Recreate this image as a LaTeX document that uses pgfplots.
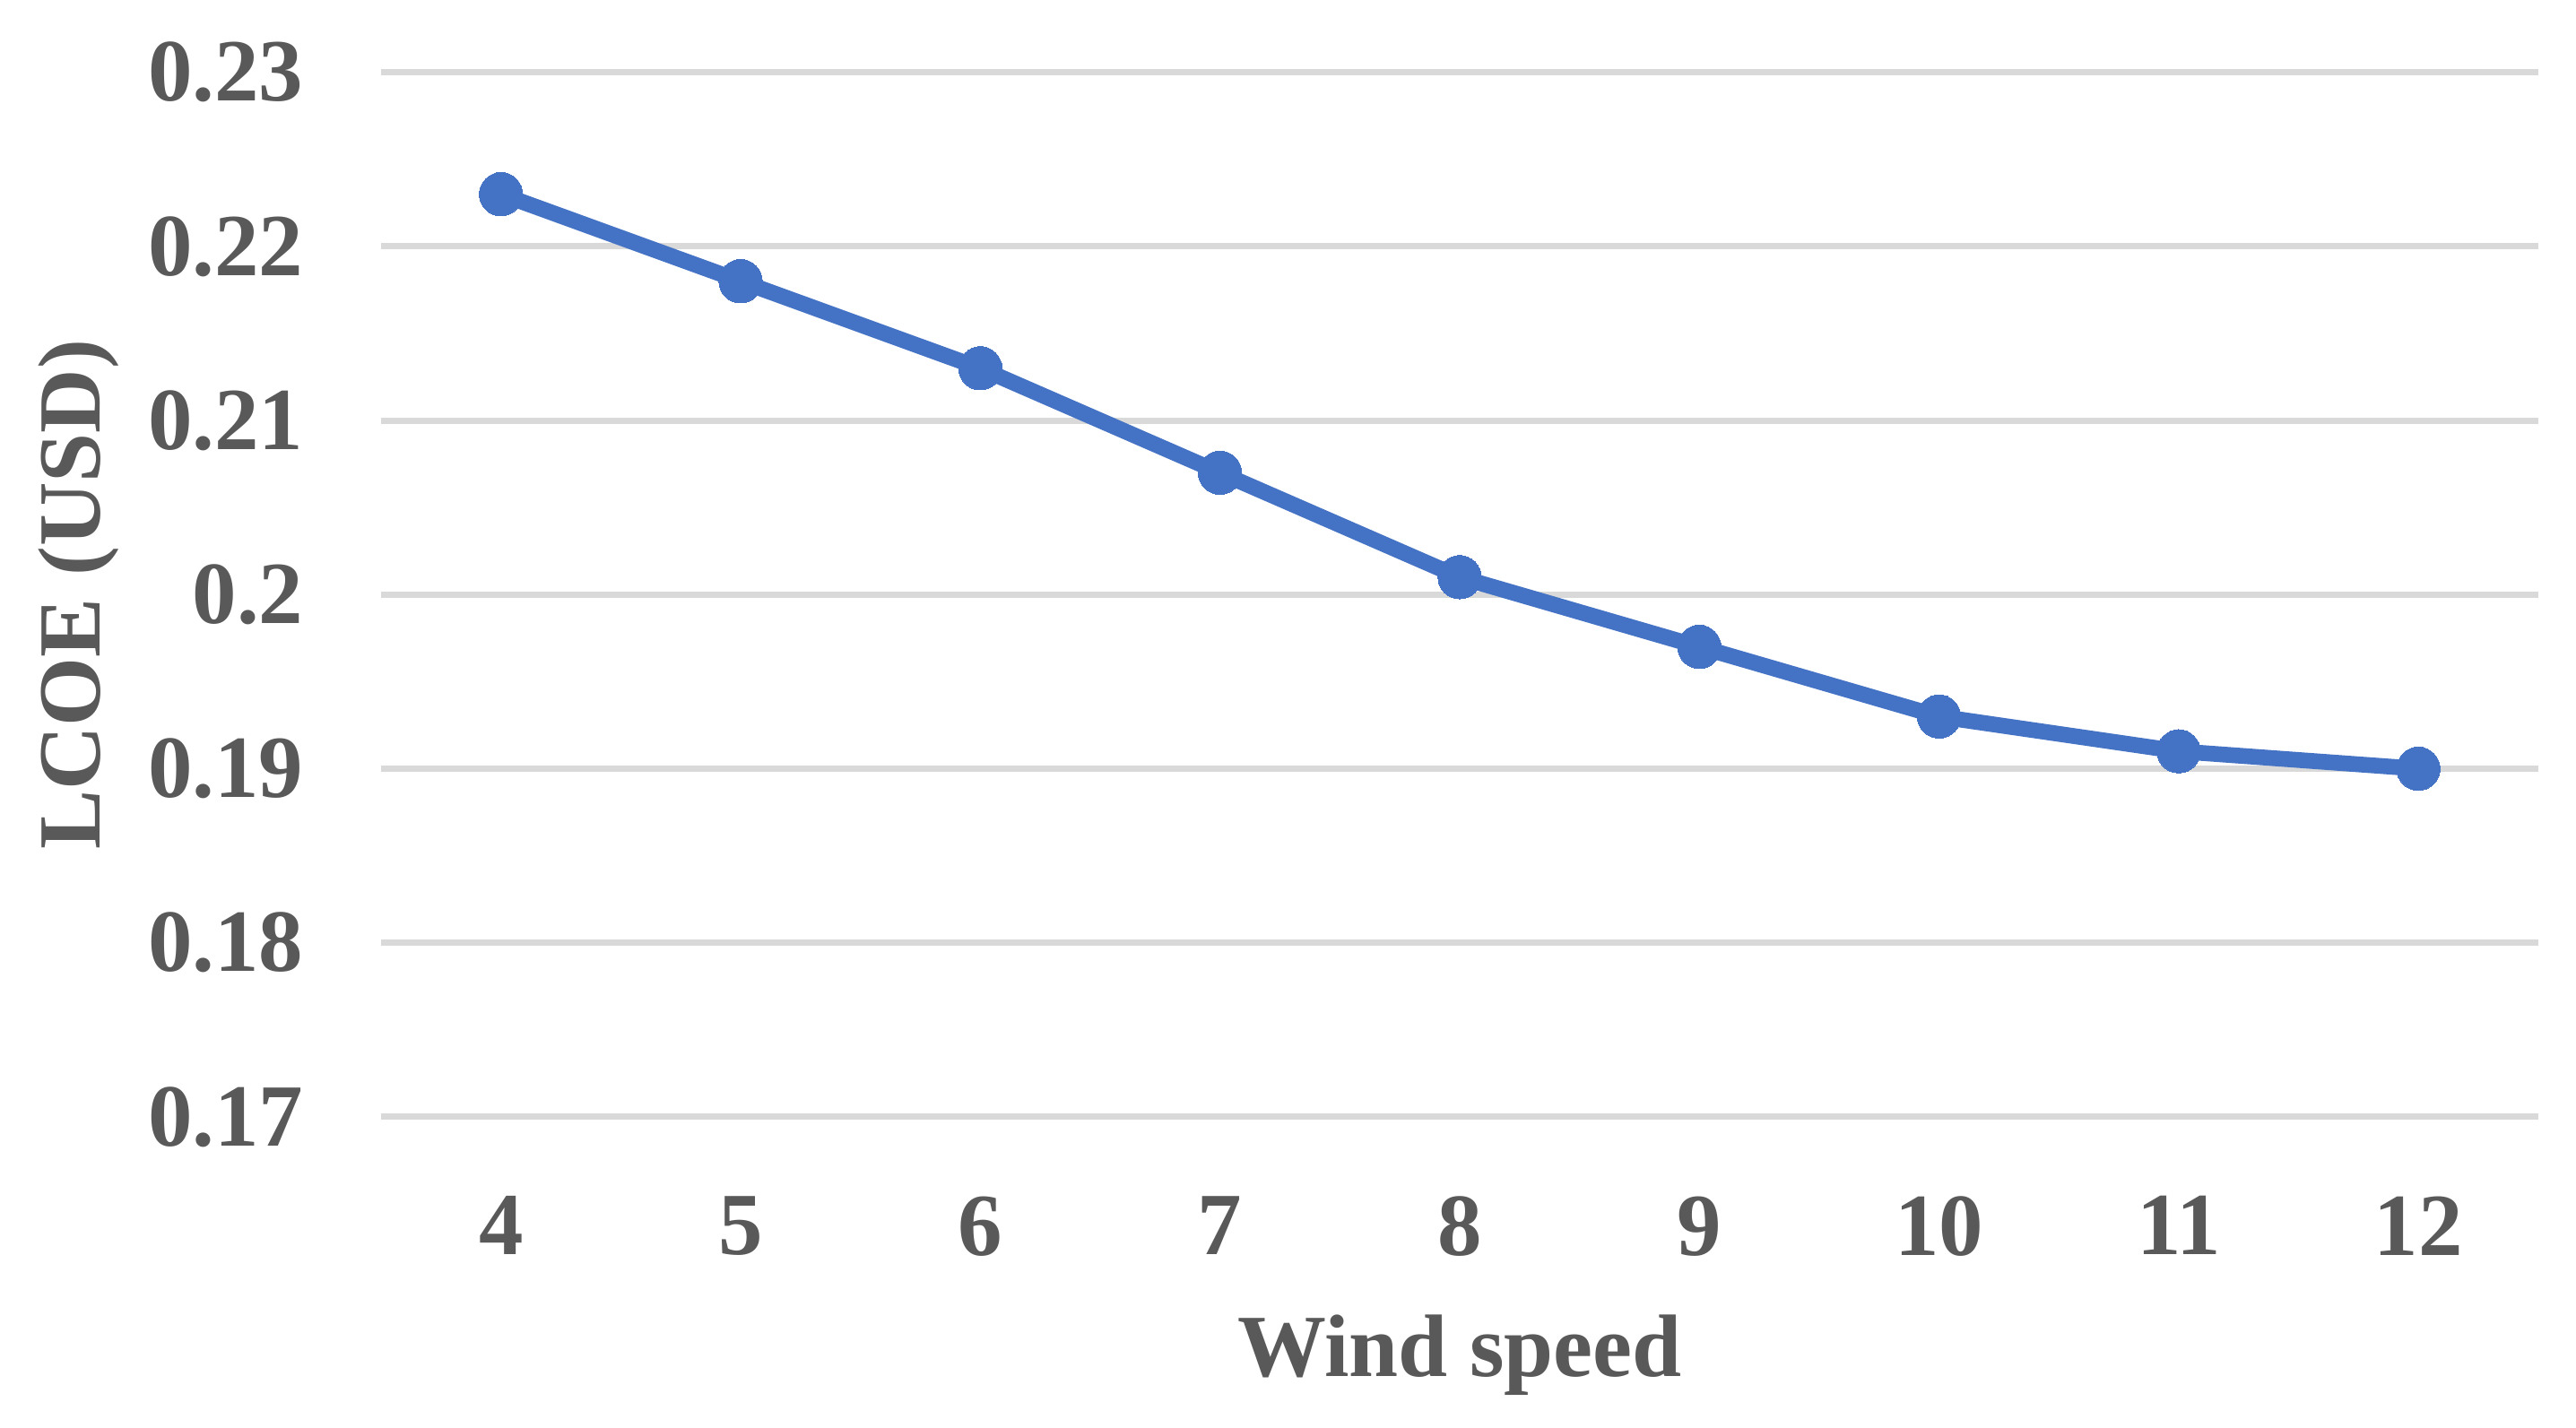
\documentclass[border=0pt]{standalone}
\usepackage{pgfplots}
\pgfplotsset{compat=1.18}
\usepackage{fontspec}
\setmainfont{Liberation Serif}
\definecolor{txt}{HTML}{595959}
\definecolor{grd}{HTML}{D9D9D9}
\definecolor{ser}{HTML}{4472C4}
\begin{document}
\begin{tikzpicture}
\begin{axis}[
  name=ax,
  scale only axis,
  width=656.5pt, height=318pt,
  xmin=-0.5, xmax=8.5,
  ymin=0.17, ymax=0.23,
  axis line style={draw=none},
  major tick length=0pt,
  xtick={0,1,2,3,4,5,6,7,8},
  xticklabels={4,5,6,7,8,9,10,11,12},
  ytick={0.17,0.18,0.19,0.20,0.21,0.22,0.23},
  yticklabels={0.17,0.18,0.19,0.2,0.21,0.22,0.23},
  ymajorgrids,
  grid style={draw=grd, line width=1.9pt},
  /pgf/number format/assume math mode=true,
  ticklabel style={font=\fontsize{27}{32}\selectfont\bfseries, text=txt, inner sep=0pt},
  yticklabel style={anchor=east, xshift=-23.5pt},
  xticklabel style={anchor=north, yshift=-24pt},
  xlabel={Wind speed},
  ylabel={LCOE (USD)},
  label style={font=\fontsize{27}{32}\selectfont\bfseries, text=txt, inner sep=0pt},
  xlabel style={at={(axis description cs:0.5,0)}, anchor=base, yshift=-79pt},
  ylabel style={at={(axis description cs:0,0.5)}, anchor=center, yshift=92pt},
  clip=false,
]
\addplot[color=ser, line width=4.8pt, mark=*, mark size=6.6pt, mark options={fill=ser, draw=ser, line width=0pt}]
coordinates {(0,0.223) (1,0.218) (2,0.213) (3,0.207) (4,0.201) (5,0.197) (6,0.193) (7,0.191) (8,0.190)};
\end{axis}
\pgfresetboundingbox
\path[use as bounding box] ([xshift=-116pt,yshift=-94.5pt]ax.south west) rectangle ([xshift=11.5pt,yshift=22pt]ax.north east);
\end{tikzpicture}
\end{document}
